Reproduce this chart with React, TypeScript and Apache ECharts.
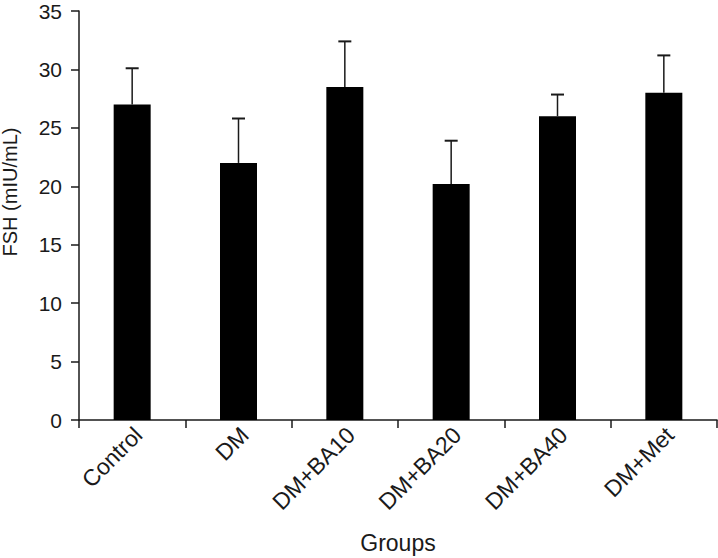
import React, { useEffect, useRef } from "react";
import * as echarts from "echarts";

const categories = ["Control", "DM", "DM+BA10", "DM+BA20", "DM+BA40", "DM+Met"];
const means = [27, 22, 28.5, 20.2, 26, 28];
const errors = [3.1, 3.8, 3.9, 3.7, 1.85, 3.2];
const yMin = 0;
const yMax = 35;
const yStep = 5;
const yTitle = "FSH (mIU/mL)";
const xTitle = "Groups";

const FONT = "'Liberation Sans', Arial, Helvetica, sans-serif";
const INK = "#1a1a1a";

export default function App() {
  const ref = useRef<HTMLDivElement>(null);
  useEffect(() => {
    if (!ref.current) return;
    const chart = echarts.init(ref.current, null, { renderer: "svg" });
    const errData = categories.map((_, i) => [i, means[i], errors[i]]);
    chart.setOption({
      animation: false,
      backgroundColor: "#ffffff",
      textStyle: { fontFamily: FONT },
      grid: {
        left: 79,
        right: 1,
        top: 11,
        bottom: 138,
        containLabel: false,
        outerBoundsMode: "none",
      },
      xAxis: {
        type: "category",
        data: categories,
        name: xTitle,
        nameLocation: "middle",
        nameGap: 111,
        nameTextStyle: { fontFamily: FONT, fontSize: 23, color: INK },
        axisLine: { show: true, lineStyle: { color: INK, width: 1.5 } },
        axisTick: { show: true, length: 8, lineStyle: { color: INK, width: 1.5 } },
        axisLabel: {
          interval: 0,
          rotate: 45,
          margin: 5,
          fontFamily: FONT,
          fontSize: 23,
          color: INK,
          align: "right",
          verticalAlign: "top",
          lineHeight: 17,
        },
        splitLine: { show: false },
      },
      yAxis: {
        type: "value",
        min: yMin,
        max: yMax,
        interval: yStep,
        axisLine: { show: true, lineStyle: { color: INK, width: 1.5 } },
        axisTick: { show: true, length: 8, lineStyle: { color: INK, width: 1.5 } },
        axisLabel: {
          margin: 17,
          fontFamily: FONT,
          fontSize: 21,
          lineHeight: 16,
          color: INK,
        },
        splitLine: { show: false },
      },
      graphic: [
        {
          type: "text",
          x: 10,
          y: 192,
          rotation: Math.PI / 2,
          style: {
            text: yTitle,
            fontFamily: FONT,
            fontSize: 20,
            fill: INK,
            align: "center",
            verticalAlign: "middle",
          },
        },
      ],
      series: [
        {
          type: "bar",
          data: means,
          barWidth: 37,
          itemStyle: { color: "#000000" },
          z: 2,
        },
        {
          type: "custom",
          data: errData,
          encode: { x: 0, y: 1 },
          z: 3,
          renderItem: (params: any, api: any) => {
            const idx = api.value(0);
            const m = api.value(1);
            const e = api.value(2);
            const top = api.coord([idx, m]);
            const hi = api.coord([idx, m + e]);
            const capW = 13;
            return {
              type: "group",
              children: [
                {
                  type: "line",
                  shape: { x1: top[0], y1: top[1], x2: hi[0], y2: hi[1] },
                  style: { stroke: INK, lineWidth: 1.5 },
                },
                {
                  type: "line",
                  shape: { x1: hi[0] - capW / 2, y1: hi[1], x2: hi[0] + capW / 2, y2: hi[1] },
                  style: { stroke: INK, lineWidth: 2 },
                },
              ],
            };
          },
        },
      ],
    });
    return () => chart.dispose();
  }, []);
  return (
    <div
      ref={ref}
      style={{ position: "absolute", left: 0, top: 0, width: 718, height: 558 }}
    />
  );
}
